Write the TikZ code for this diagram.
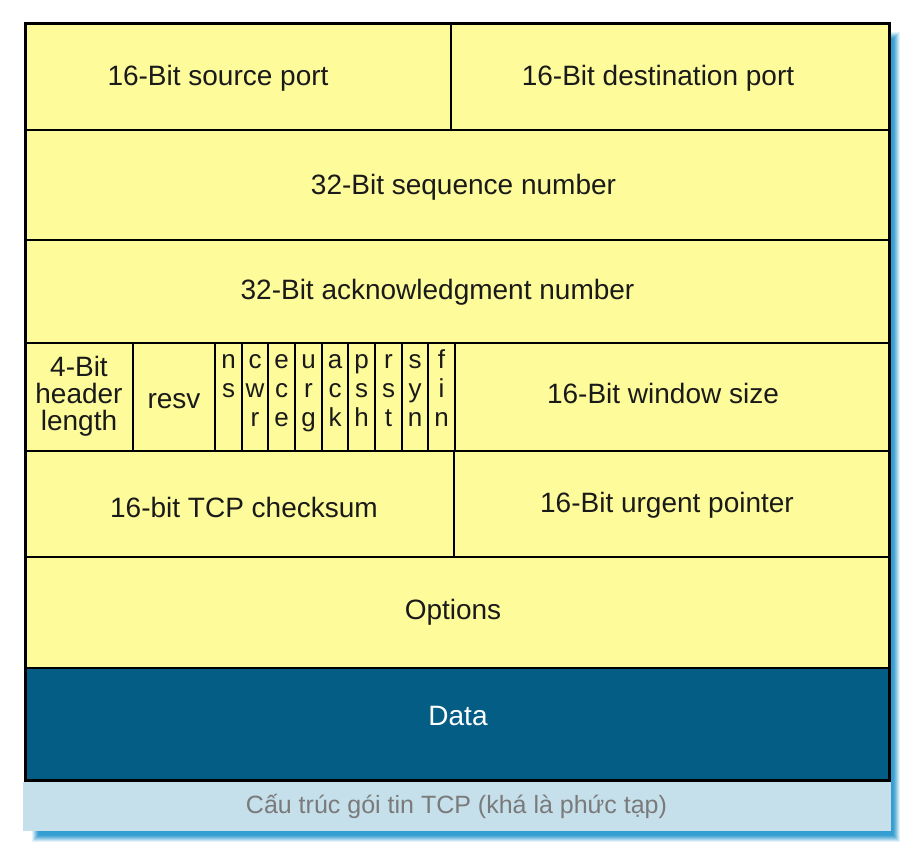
\documentclass[tikz,border=0pt]{standalone}
\usepackage{fontspec}
\setmainfont{Liberation Sans}
\newfontfamily\capfont{Liberation Sans}
\definecolor{cellyellow}{HTML}{FDFB9A}
\definecolor{datablue}{HTML}{035D84}
\definecolor{capband}{HTML}{C5E0EB}
\definecolor{capgray}{HTML}{7A7A7A}
\definecolor{glow}{HTML}{2E9BD0}
\definecolor{inkblack}{HTML}{1A1A1A}
\begin{document}
\begin{tikzpicture}[x=1pt,y=-1pt,
  lbl/.style={inner sep=0pt, anchor=base, text=inkblack, font=\fontsize{28}{28}\selectfont},
  flg/.style={inner sep=0pt, anchor=base, text=inkblack, font=\fontsize{26}{26}\selectfont},
  grid/.style={draw=black, line width=2.4pt},
  frame/.style={draw=black, line width=3pt}]
\useasboundingbox (0,0) rectangle (915,853);
\fill[white] (0,0) rectangle (915,853);
% glow shadow
\foreach \k/\o in {0/0.12,1/0.16,2/0.2,3/0.26,4/0.32,5/0.4,6/0.5,7/0.6}{
  \fill[glow, opacity=\o] (32+\k,32+\k) rectangle (900-\k,842-\k);
}
% caption band
\fill[capband] (23,782) rectangle (891,831);
% cells
\fill[white] (23,22) rectangle (891,782);
\fill[cellyellow] (25,24) rectangle (889,668);
\fill[datablue] (25,668) rectangle (889,780);
% horizontal lines
\foreach \y in {130,240,343,451,557,668}{
  \draw[grid] (25,\y) -- (889,\y);
}
% vertical lines
\draw[grid] (451,24) -- (451,130);
\draw[grid] (454,451) -- (454,557);
\draw[grid] (133,343) -- (133,451);
\foreach \x in {215,242,268,295,322,348,375,402,428,455}{
  \draw[grid, line width=2pt] (\x,343) -- (\x,451);
}
\draw[frame] (25,24) rectangle (889,780);
% labels
\node[lbl] (src) at (218,86) {16-Bit source port};
\node[lbl] (dst) at (658,86) {16-Bit destination port};
\node[lbl] (seq) at (463.5,194) {32-Bit sequence number};
\node[lbl] (ack) at (437.5,299.5) {32-Bit acknowledgment number};
\node[lbl] (hl1) at (79,376) {4-Bit};
\node[lbl] (hl2) at (79,403) {header};
\node[lbl] (hl3) at (79,430) {length};
\node[lbl] (resv) at (174,408) {resv};
\node[lbl] (win) at (663,403) {16-Bit window size};
\node[lbl] (chk) at (244,517.5) {16-bit TCP checksum};
\node[lbl] (urg) at (667,512.5) {16-Bit urgent pointer};
\node[lbl] (opt) at (453,619.5) {Options};
\node[lbl, text=white] (data) at (458,725.5) {Data};
% flags
\foreach \x/\a/\b/\c [count=\i] in {228.5/n/s/{},255/c/w/r,281.5/e/c/e,308.5/u/r/g,335/a/c/k,361.5/p/s/h,388.5/r/s/t,415/s/y/n,441.5/f/i/n}{
  \node[flg] (fa\i) at (\x,368) {\a};
  \node[flg] (fb\i) at (\x,397) {\b};
  \node[flg] (fc\i) at (\x,426) {\c};
}
% caption
\node[inner sep=0pt, anchor=base, text=capgray, font=\capfont\fontsize{25}{25}\selectfont] (cap) at (456.5,813) {Cấu trúc gói tin TCP (khá là phức tạp)};
\end{tikzpicture}
\end{document}
